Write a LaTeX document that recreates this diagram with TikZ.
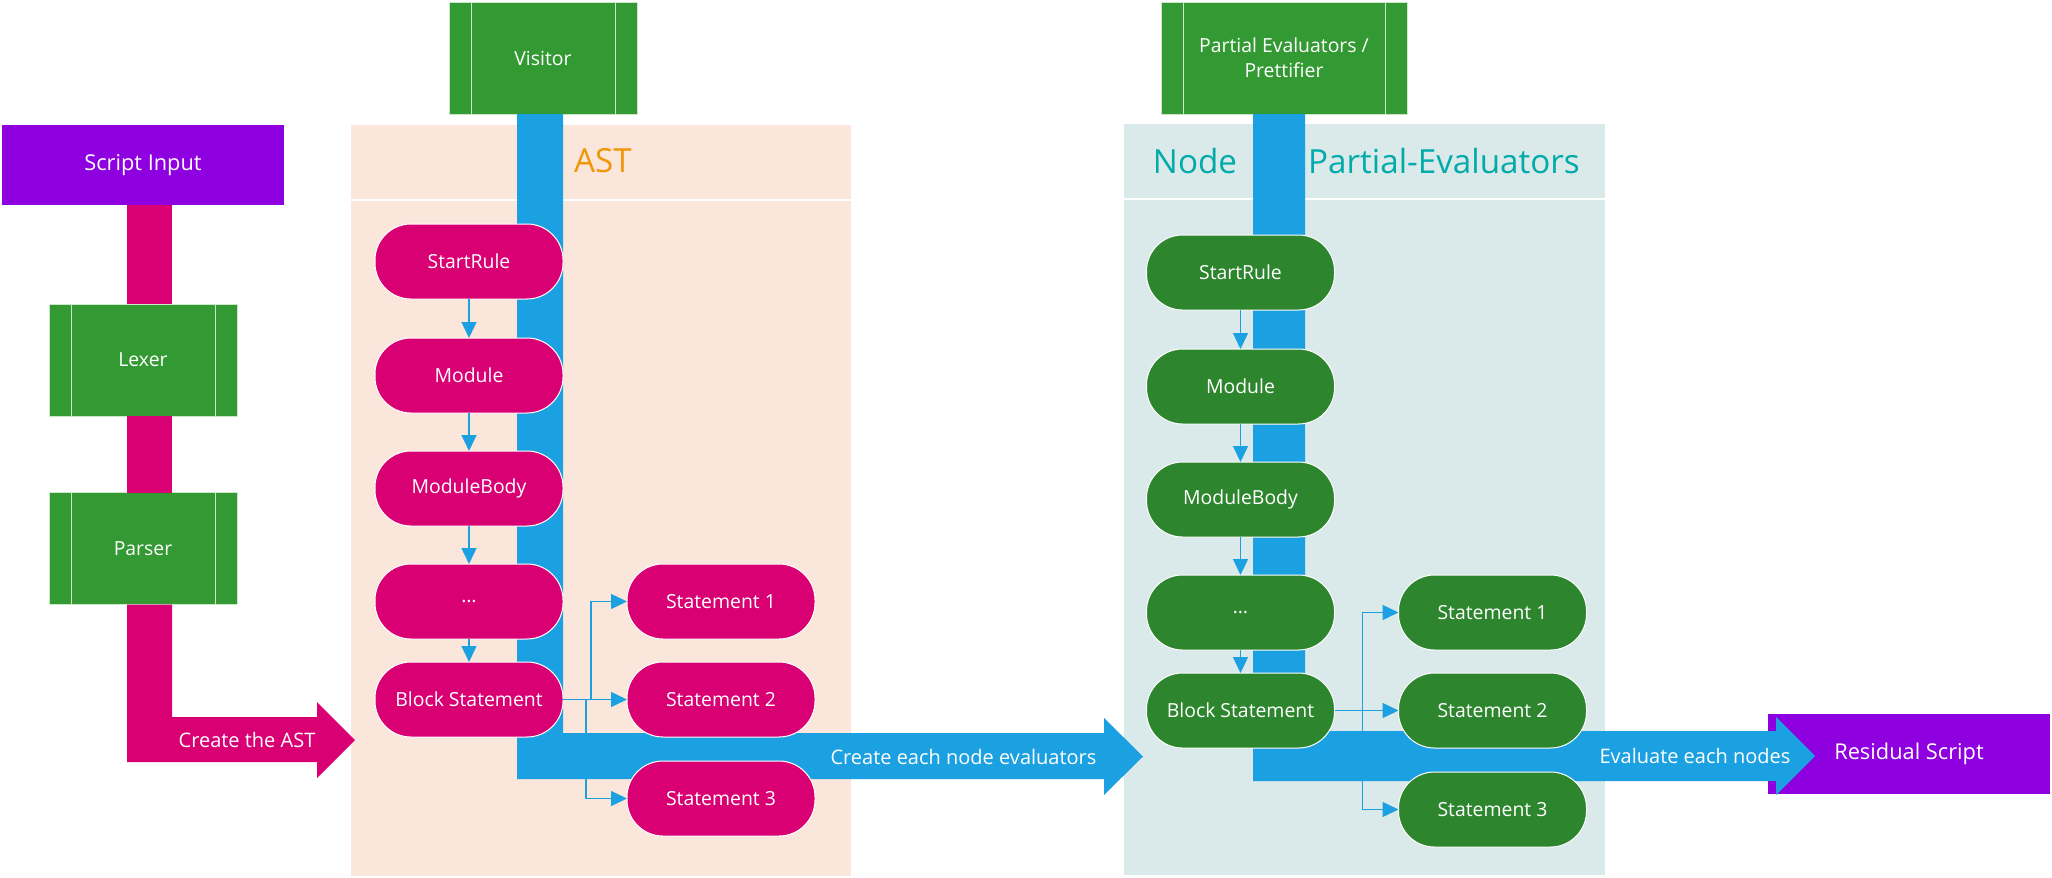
\documentclass[tikz,border=0pt]{standalone}
\usepackage{fontspec}
\setmainfont{Open Sans}
\usetikzlibrary{arrows.meta}

\definecolor{scriptpurple}{RGB}{142,0,224}
\definecolor{barmagenta}{RGB}{216,0,115}
\definecolor{procgreen}{RGB}{51,153,51}
\definecolor{evalgreen}{RGB}{45,134,46}
\definecolor{flowblue}{RGB}{27,161,226}
\definecolor{astback}{RGB}{250,230,218}
\definecolor{nodeback}{RGB}{218,233,233}
\definecolor{astorange}{RGB}{240,150,9}
\definecolor{nodeteal}{RGB}{0,171,169}

\tikzset{
  procbox/.style={fill=procgreen, draw=white!75!procgreen, line width=0.5pt, text=white,
    minimum width=94pt, minimum height=56pt, inner sep=0pt, outer sep=0pt, align=center,
    font=\fontsize{9.7}{12.5}\selectfont,
    path picture={
      \draw[white!75!procgreen, line width=0.5pt]
        ([xshift=11pt]path picture bounding box.north west) -- ([xshift=11pt]path picture bounding box.south west)
        ([xshift=-11pt]path picture bounding box.north east) -- ([xshift=-11pt]path picture bounding box.south east);
    }},
  scriptbox/.style={fill=scriptpurple, text=white, minimum width=141pt, minimum height=40pt,
    inner sep=0pt, outer sep=0pt, font=\fontsize{10.9}{13}\selectfont},
  rulenode/.style={fill=#1, draw=white, line width=0.5pt, rounded corners=18pt, text=white,
    minimum width=94pt, minimum height=37.5pt, inner sep=0pt, outer sep=0pt,
    font=\fontsize{9.7}{12}\selectfont},
  link/.style={flowblue, line width=0.7pt, -{Triangle[length=8pt,width=7.5pt]}},
  bandlabel/.style={text=white, inner sep=0pt, font=\fontsize{10}{12}\selectfont},
  paneltitle/.style={inner sep=0pt, font=\fontsize{16.6}{20}\selectfont},
}

\newcommand\DrawRuleStack[3]{%
% node prefix, fill colour, x of the lower branch
  \foreach \name/\txt/\y in {start/StartRule/0, module/Module/114, body/ModuleBody/227,
      dots/\ldots/340, block/Block Statement/438}
    \node[rulenode=#2] (#1-\name) at (0,\y) {\txt};
  \foreach \a/\b in {start/module, module/body, body/dots, dots/block}
    \draw[link] (#1-\a) -- (#1-\b);
  \foreach \i/\y in {1/340, 2/438, 3/537}
    \node[rulenode=#2] (#1-stmt\i) at (252,\y) {Statement \i};
  \draw[link] (#1-block.east) -- (#1-stmt2.west);
  \draw[link] (#1-block.east) -- (122,0 |- #1-block.east) |- (#1-stmt1.west);
  \draw[link] (#1-block.east) -- (#3,0 |- #1-block.east) |- (#1-stmt3.west);
}

\begin{document}
\begin{tikzpicture}[x=0.5pt,y=-0.5pt]
  \useasboundingbox (0,0) rectangle (2052,878);

  % panels
  \fill[astback] (351,125) rectangle (851,876);
  \draw[white, line width=0.6pt] (351,200) -- (851,200);
  \fill[nodeback] (1124,124) rectangle (1605,875);
  \draw[white, line width=0.6pt] (1124,199) -- (1605,199);
  \node[paneltitle, text=astorange] (asttitle) at (603,161) {AST};
  \node[paneltitle, text=nodeteal] (nodetitle) at (1195,161) {Node};
  \node[paneltitle, text=nodeteal] (evaltitle) at (1444,161) {Partial-Evaluators};

  % script -> lexer -> parser -> AST
  \node[scriptbox] (input) at (143,165) {Script Input};
  \node[procbox] (lexer) at (143,360) {Lexer};
  \node[procbox] (parser) at (143,548.5) {Parser};
  \fill[barmagenta] (127,0 |- input.south) rectangle (172,0 |- lexer.north);
  \fill[barmagenta] (127,0 |- lexer.south) rectangle (172,0 |- parser.north);
  \fill[barmagenta] (127,0 |- parser.south) -- (127,762) -- (317,762) -- (317,778)
    -- (355,740) -- (317,702) -- (317,717) -- (172,717) -- (172,0 |- parser.south) -- cycle;
  \node[bandlabel] (astlabel) at (247,740) {Create the AST};

  % visitor
  \node[procbox] (visitor) at (543,58) {Visitor};
  \fill[flowblue] (517,0 |- visitor.south) -- (517,779) -- (1104,779) -- (1104,795)
    -- (1143,756.5) -- (1104,718) -- (1104,733) -- (563,733) -- (563,0 |- visitor.south) -- cycle;
  \node[bandlabel] (createlabel) at (963.5,757) {Create each node evaluators};

  % partial evaluators
  \node[procbox, minimum width=123pt] (prettifier) at (1284,58) {Partial Evaluators /\\Prettifier};
  \node[scriptbox] (residual) at (1909,753.5) {Residual Script};
  \fill[flowblue] (1253,0 |- prettifier.south) -- (1253,781) -- (1776,781) -- (1776,795)
    -- (1815,756) -- (1776,717) -- (1776,731) -- (1305,731) -- (1305,0 |- prettifier.south) -- cycle;
  \node[bandlabel] (evallabel) at (1695,756) {Evaluate each nodes};

  \begin{scope}[shift={(469,261.5)}]
    \DrawRuleStack{ast}{barmagenta}{117}
  \end{scope}
  \begin{scope}[shift={(1240.5,272.5)}]
    \DrawRuleStack{eval}{evalgreen}{122}
  \end{scope}
\end{tikzpicture}
\end{document}
